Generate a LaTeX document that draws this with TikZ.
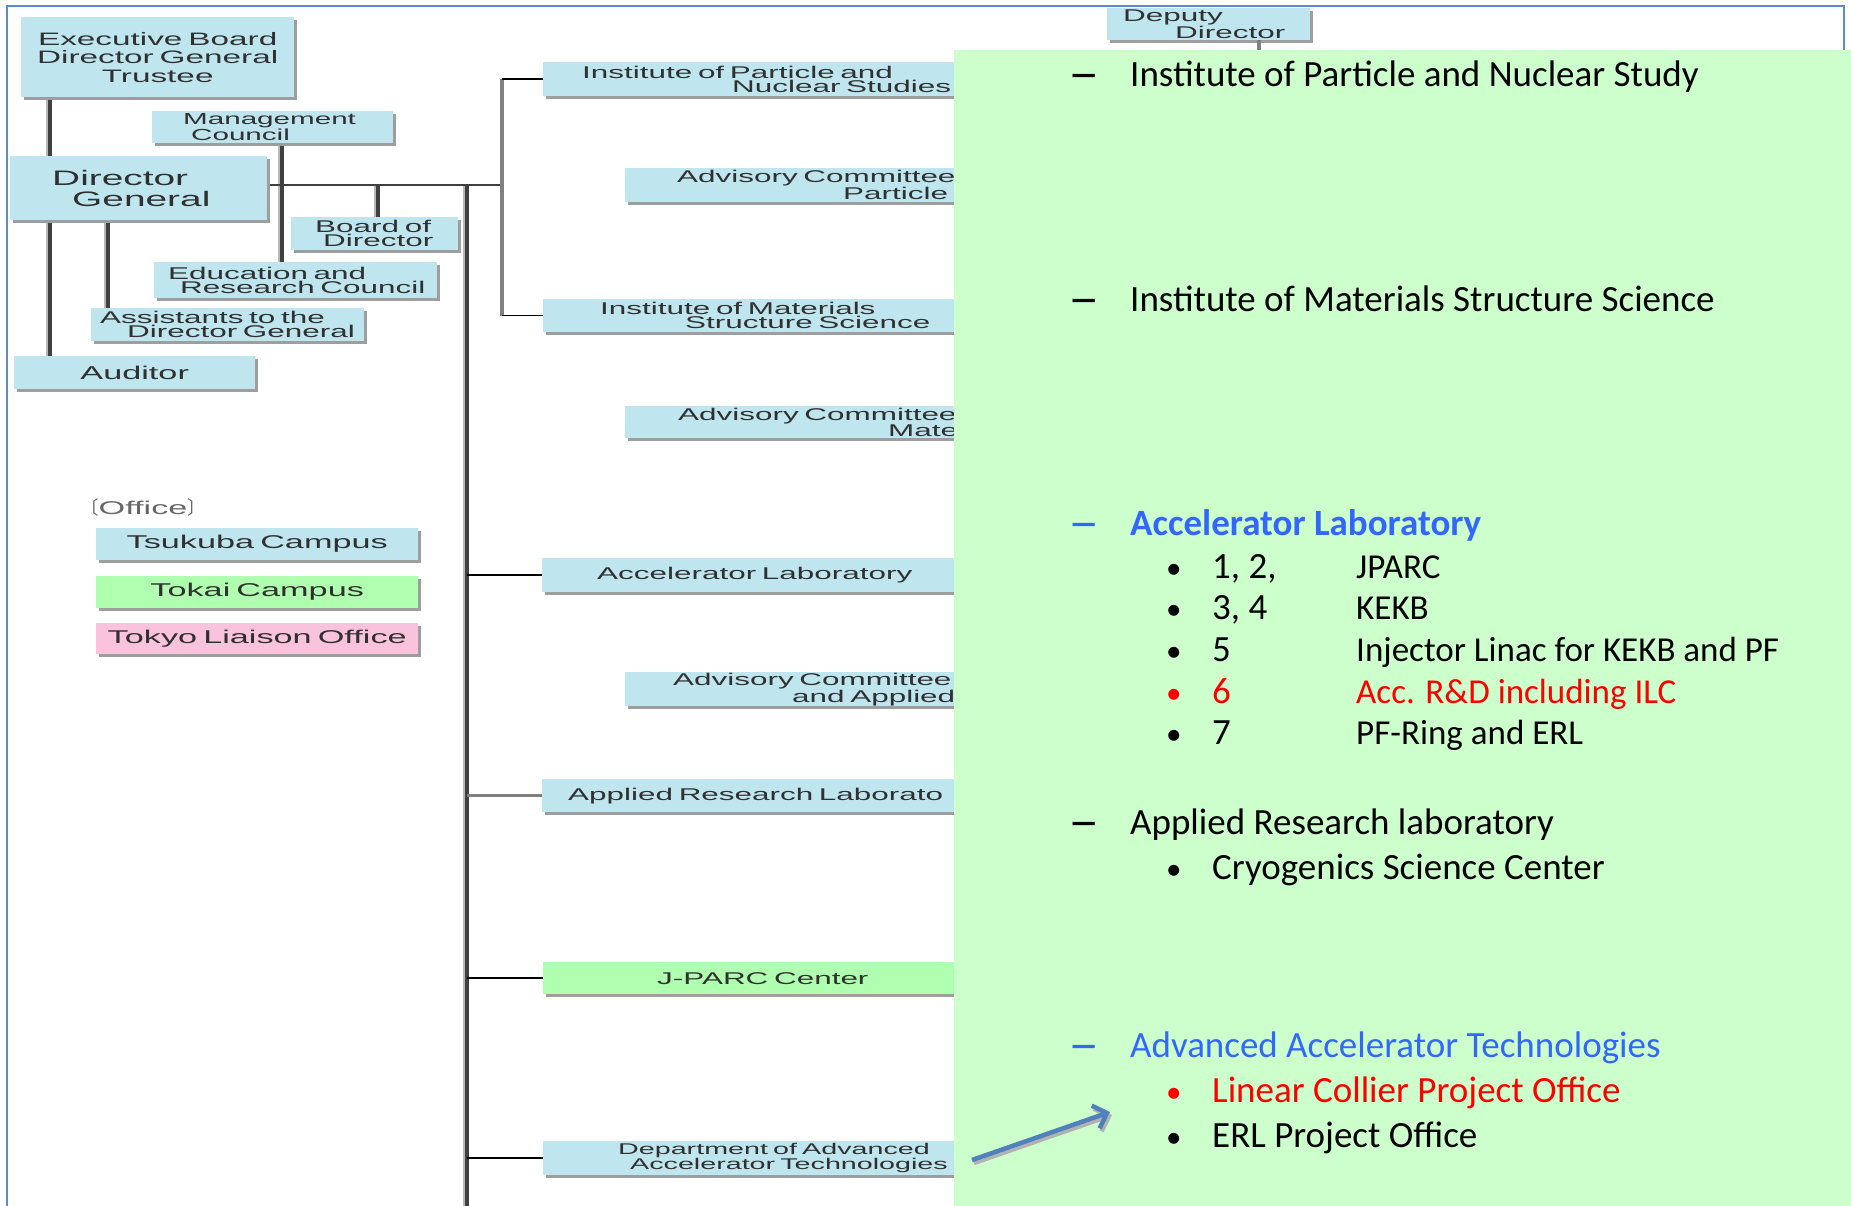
\documentclass[tikz,border=0pt]{standalone}
\usepackage{fontspec}
\setmainfont{Carlito}
\newfontfamily\orgfont{Liberation Sans}[FakeStretch=1.85]
\newfontfamily\cjkfont{Noto Sans CJK JP}
\usetikzlibrary{shadows,backgrounds,arrows.meta}

\definecolor{boxblue}{HTML}{BFE6EF}
\definecolor{boxgreen}{HTML}{B0FFB0}
\definecolor{boxpink}{HTML}{F9C3DD}
\definecolor{panelgreen}{HTML}{CCFFCC}
\definecolor{framblue}{HTML}{5B8BD0}
\definecolor{arrblue}{HTML}{4F81BD}
\definecolor{txtblue}{HTML}{3366FF}
\definecolor{orgtext}{HTML}{303030}
\definecolor{linedark}{HTML}{404040}

\tikzset{
  orgbox/.style={anchor=north west, fill=boxblue, inner xsep=0pt, inner ysep=0pt,
    align=left, text=orgtext, font=\orgfont\fontsize{17}{14}\selectfont,
    drop shadow={shadow xshift=3pt, shadow yshift=-3pt, fill=black!38, opacity=1}},
  trunk/.style={draw=linedark, line width=3.5pt,
    preaction={draw=black!28, line width=3pt, transform canvas={xshift=-3pt}}},
  arm/.style={draw=black, line width=1.5pt},
  greyarm/.style={draw=black!50, line width=3pt},
  item/.style={anchor=base west, inner sep=0pt, font=\fontsize{37}{44}\selectfont},
  dot/.style={anchor=base west, inner sep=0pt, font=\fontsize{31}{44}\selectfont},
}

\begin{document}
\begin{tikzpicture}[x=1pt,y=-1pt]
    \useasboundingbox (0,0) rectangle (1851,1206);

    % left chart
    \node[orgbox, text width=273pt, minimum height=80pt, align=center,
          font=\orgfont\fontsize{18}{18.5}\selectfont] (exec) at (21,17) {Executive Board\\Director General\\Trustee};
    \node[orgbox, text width=241pt, minimum height=32pt,
          font=\orgfont\fontsize{16}{16}\selectfont] (mgmt) at (152,111) {\hspace*{31pt}Management\\\hspace*{39pt}Council};
    \node[orgbox, text width=257pt, minimum height=64pt,
          font=\orgfont\fontsize{21}{21}\selectfont] (dg) at (10,156) {\hspace*{42pt}Director\\\hspace*{62pt}General};
    \node[orgbox, text width=167pt, minimum height=33pt] (bod) at (291,217) {\hspace*{24pt}Board of\\\hspace*{32pt}Director};
    \node[orgbox, text width=283pt, minimum height=36pt] (edu) at (154,262) {\hspace*{14pt}Education and\\\hspace*{26pt}Research Council};
    \node[orgbox, text width=273pt, minimum height=33pt] (asst) at (91,308) {\hspace*{9pt}Assistants to the\\\hspace*{36pt}Director General};
    \node[orgbox, text width=241pt, minimum height=33pt, align=center,
          font=\orgfont\fontsize{18.5}{18}\selectfont] (aud) at (14,356) {Auditor};

    % offices
    \node[anchor=base west, inner sep=0pt, text=black!60, font=\orgfont\fontsize{18.5}{18}\selectfont]
          (office) at (80,514) {{\cjkfont 〔}Office{\cjkfont 〕}};
    \node[orgbox, text width=322pt, minimum height=32pt, align=center,
          font=\orgfont\fontsize{18.5}{18}\selectfont] (tsu) at (96,528) {Tsukuba Campus};
    \node[orgbox, text width=322pt, minimum height=32pt, align=center, fill=boxgreen,
          font=\orgfont\fontsize{18.5}{18}\selectfont] (tok) at (96,576) {Tokai Campus};
    \node[orgbox, text width=322pt, minimum height=31pt, align=center, fill=boxpink,
          font=\orgfont\fontsize{18.5}{18}\selectfont] (tky) at (96,623) {Tokyo Liaison Office};

    % right column
    \node[orgbox, text width=457pt, minimum height=34pt, font=\orgfont\fontsize{17}{14}\selectfont]
          (ipns) at (543,62) {\hspace*{39pt}Institute of Particle and\\\hspace*{189pt}Nuclear Studies};
    \node[orgbox, text width=375pt, minimum height=34pt] (acp) at (625,168) {\hspace*{52pt}Advisory Committee\\\hspace*{218pt}Particle};
    \node[orgbox, text width=457pt, minimum height=33pt] (imss) at (543,299) {\hspace*{57pt}Institute of Materials\\\hspace*{142pt}Structure Science};
    \node[orgbox, text width=375pt, minimum height=32pt] (acm) at (625,406) {\hspace*{53pt}Advisory Committee\\\hspace*{263pt}Mate};
    \node[orgbox, text width=458pt, minimum height=34pt] (acc) at (542,558) {\hspace*{55pt}Accelerator Laboratory};
    \node[orgbox, text width=375pt, minimum height=34pt] (aca) at (625,672) {\hspace*{48pt}Advisory Committee\\\hspace*{167pt}and Applied};
    \node[orgbox, text width=458pt, minimum height=33pt] (arl) at (542,779) {\hspace*{26pt}Applied Research Laborato};
    \node[orgbox, text width=457pt, minimum height=32pt, fill=boxgreen] (jparc) at (543,962) {\hspace*{114pt}J-PARC Center};
    \node[orgbox, text width=457pt, minimum height=34pt, font=\orgfont\fontsize{15.5}{14}\selectfont]
          (daat) at (543,1141) {\hspace*{75pt}Department of Advanced\\\hspace*{87pt}Accelerator Technologies};

    \node[orgbox, text width=203pt, minimum height=32pt] (dep) at (1107,8) {\hspace*{16pt}Deputy\\\hspace*{68pt}Director};

    \coordinate (hub) at (502,185);
    \coordinate (lx) at (50,0);
    \coordinate (ax) at (108,0);
    \coordinate (mx) at (282,0);
    \coordinate (bx) at (378,0);
    \coordinate (tx) at (467,0);
    \coordinate (dx) at (1259,0);
    \coordinate (base) at (467,1206);

    \begin{scope}[on background layer]
    \draw[framblue, line width=2pt] (7,1206) -- (7,6) -- (1844,6) -- (1844,60);
    \draw[trunk] (exec.south -| lx) -- (dg.north -| lx);
    \draw[trunk] (dg.south -| lx) -- (aud.north -| lx);
    \draw[trunk] (dg.south -| ax) -- (asst.north -| ax);
    \draw[trunk] (mgmt.south -| mx) -- (edu.north -| mx);
    \draw[trunk] (hub -| bx) -- (bod.north -| bx);
    \draw[trunk] (hub -| tx) -- (base);
    \draw[draw=linedark, line width=2.5pt] (dg.east |- hub) -- (hub);
    \draw[draw=black!50, line width=4pt] (ipns.west -| hub) -- (imss.west -| hub);
    \draw[arm] (ipns.west -| hub) -- (ipns.west);
    \draw[arm] (imss.west -| hub) -- (imss.west);
    \draw[arm] (acc.west -| tx) -- (acc.west);
    \draw[greyarm] (arl.west -| tx) -- (arl.west);
    \draw[arm] (jparc.west -| tx) -- (jparc.west);
    \draw[arm] (daat.west -| tx) -- (daat.west);
    \end{scope}

    % green panel over the chart
    \node[fill=panelgreen, anchor=north west, inner sep=0pt, minimum width=897pt, minimum height=1156pt] (panel) at (954,50) {};
    \draw[draw=black!50, line width=4pt] (dep.south -| dx) -- (panel.north -| dx);

    % text on the panel
    \node[item] (d1) at (1068,87) {\scalebox{1.7}[1]{\bfseries –}};
    \node[item] (t1) at (1130,87) {Institute of Particle and Nuclear Study};
    \node[item] (d2) at (1068,311) {\scalebox{1.7}[1]{\bfseries –}};
    \node[item] (t2) at (1130,311) {Institute of Materials Structure Science};
    \node[item, text=txtblue] (d3) at (1068,535) {\scalebox{1.7}[1]{\bfseries –}};
    \node[item, text=txtblue, font=\fontsize{37}{44}\selectfont\bfseries] (t3) at (1130,535) {Accelerator Laboratory};
    \foreach \i/\yy/\num/\what/\col in {1/578/{1, 2,}/JPARC/black, 2/619/{3, 4}/KEKB/black,
        3/661/5/Injector Linac for KEKB and PF/black, 4/703/6/Acc. R\&D including ILC/red,
        5/744/7/PF-Ring and ERL/black} {
      \node[dot, text=\col] (b\i) at (1166,\yy) {\textbullet};
      \node[item, text=\col] (n\i) at (1212,\yy) {\num};
      \node[item, text=\col, font=\fontsize{35}{44}\selectfont] (w\i) at (1356,\yy) {\what};
    }
    \node[item] (d4) at (1068,834) {\scalebox{1.7}[1]{\bfseries –}};
    \node[item] (t4) at (1130,834) {Applied Research laboratory};
    \node[dot] (b6) at (1166,879) {\textbullet};
    \node[item] (n6) at (1212,879) {Cryogenics Science Center};
    \node[item, text=txtblue] (d5) at (1068,1057) {\scalebox{1.7}[1]{\bfseries –}};
    \node[item, text=txtblue] (t5) at (1130,1057) {Advanced Accelerator Technologies};
    \node[dot, text=red] (b7) at (1166,1102) {\textbullet};
    \node[item, text=red] (n7) at (1212,1102) {Linear Collier Project Office};
    \node[dot] (b8) at (1166,1147) {\textbullet};
    \node[item] (n8) at (1212,1147) {ERL Project Office};

    % arrow to the new office
    \coordinate (arrtail) at (972,1160);
    \coordinate (arrhead) at (1110,1112);
    \draw[black!30, line width=4.5pt, -{Straight Barb[length=12pt,width=24pt]}, transform canvas={xshift=2pt,yshift=-3pt}] (arrtail) -- (arrhead);
    \draw[arrblue, line width=4.5pt, -{Straight Barb[length=12pt,width=24pt]}] (arrtail) -- (arrhead);
\end{tikzpicture}
\end{document}
